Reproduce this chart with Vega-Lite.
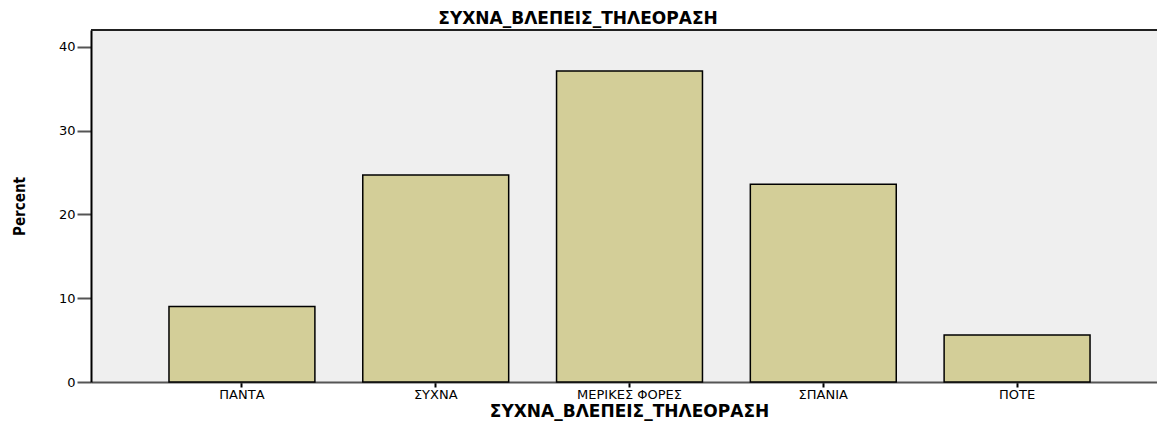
{
  "$schema": "https://vega.github.io/schema/vega-lite/v6.json",
  "autosize": {"type": "none"},
  "padding": {"left": 91, "top": 30, "right": 0, "bottom": 39},
  "width": 1066,
  "height": 352,
  "background": "white",
  "config": {
    "view": {"fill": "#efefef", "stroke": null},
    "font": "Liberation Sans"
  },
  "title": {
    "text": "ΣΥΧΝΑ_ΒΛΕΠΕΙΣ_ΤΗΛΕΟΡΑΣΗ",
    "font": "DejaVu Sans",
    "fontSize": 17,
    "fontWeight": "bold",
    "color": "black",
    "anchor": "middle",
    "baseline": "alphabetic",
    "offset": -12,
    "dx": -46
  },
  "data": {
    "values": [
      {"category": "ΠΑΝΤΑ", "percent": 9.0},
      {"category": "ΣΥΧΝΑ", "percent": 24.7},
      {"category": "ΜΕΡΙΚΕΣ ΦΟΡΕΣ", "percent": 37.1},
      {"category": "ΣΠΑΝΙΑ", "percent": 23.6},
      {"category": "ΠΟΤΕ", "percent": 5.6}
    ]
  },
  "layer": [
    {
      "mark": {"type": "bar", "fill": "#d3ce98", "stroke": "black", "strokeWidth": 1.5},
      "encoding": {
        "x": {
          "field": "category",
          "type": "nominal",
          "sort": null,
          "scale": {"paddingInner": 0.247, "paddingOuter": 0.374, "align": 0.538},
          "axis": {
            "title": "ΣΥΧΝΑ_ΒΛΕΠΕΙΣ_ΤΗΛΕΟΡΑΣΗ",
            "titleFont": "DejaVu Sans",
            "titleFontSize": 17,
            "titleFontWeight": "bold",
            "titleColor": "black",
            "titleX": 538,
            "titleY": 34,
            "titleBaseline": "alphabetic",
            "labelAngle": 0,
            "labelFont": "DejaVu Sans",
            "labelFontSize": 13,
            "labelColor": "black",
            "labelPadding": 1,
            "tickSize": 5,
            "tickColor": "black",
            "tickWidth": 2,
            "domainColor": "#555555",
            "domainWidth": 2
          }
        },
        "y": {
          "field": "percent",
          "type": "quantitative",
          "scale": {"domain": [0, 42], "nice": false},
          "axis": {
            "title": "Percent",
            "titleFont": "DejaVu Sans Condensed",
            "titleFontSize": 15,
            "titleFontWeight": "bold",
            "titleColor": "black",
            "titleAngle": -90,
            "titleX": -72,
            "titleY": 176,
            "titleAlign": "center",
            "titleBaseline": "middle",
            "values": [0, 10, 20, 30, 40],
            "grid": false,
            "labelFont": "DejaVu Sans",
            "labelFontSize": 13,
            "labelColor": "black",
            "labelPadding": 2,
            "tickSize": 14,
            "tickColor": "#555555",
            "tickWidth": 2,
            "domainColor": "black",
            "domainWidth": 2
          }
        }
      }
    },
    {
      "mark": {"type": "rule", "color": "#222222", "strokeWidth": 1.5},
      "encoding": {"y": {"datum": 42}}
    }
  ]
}
